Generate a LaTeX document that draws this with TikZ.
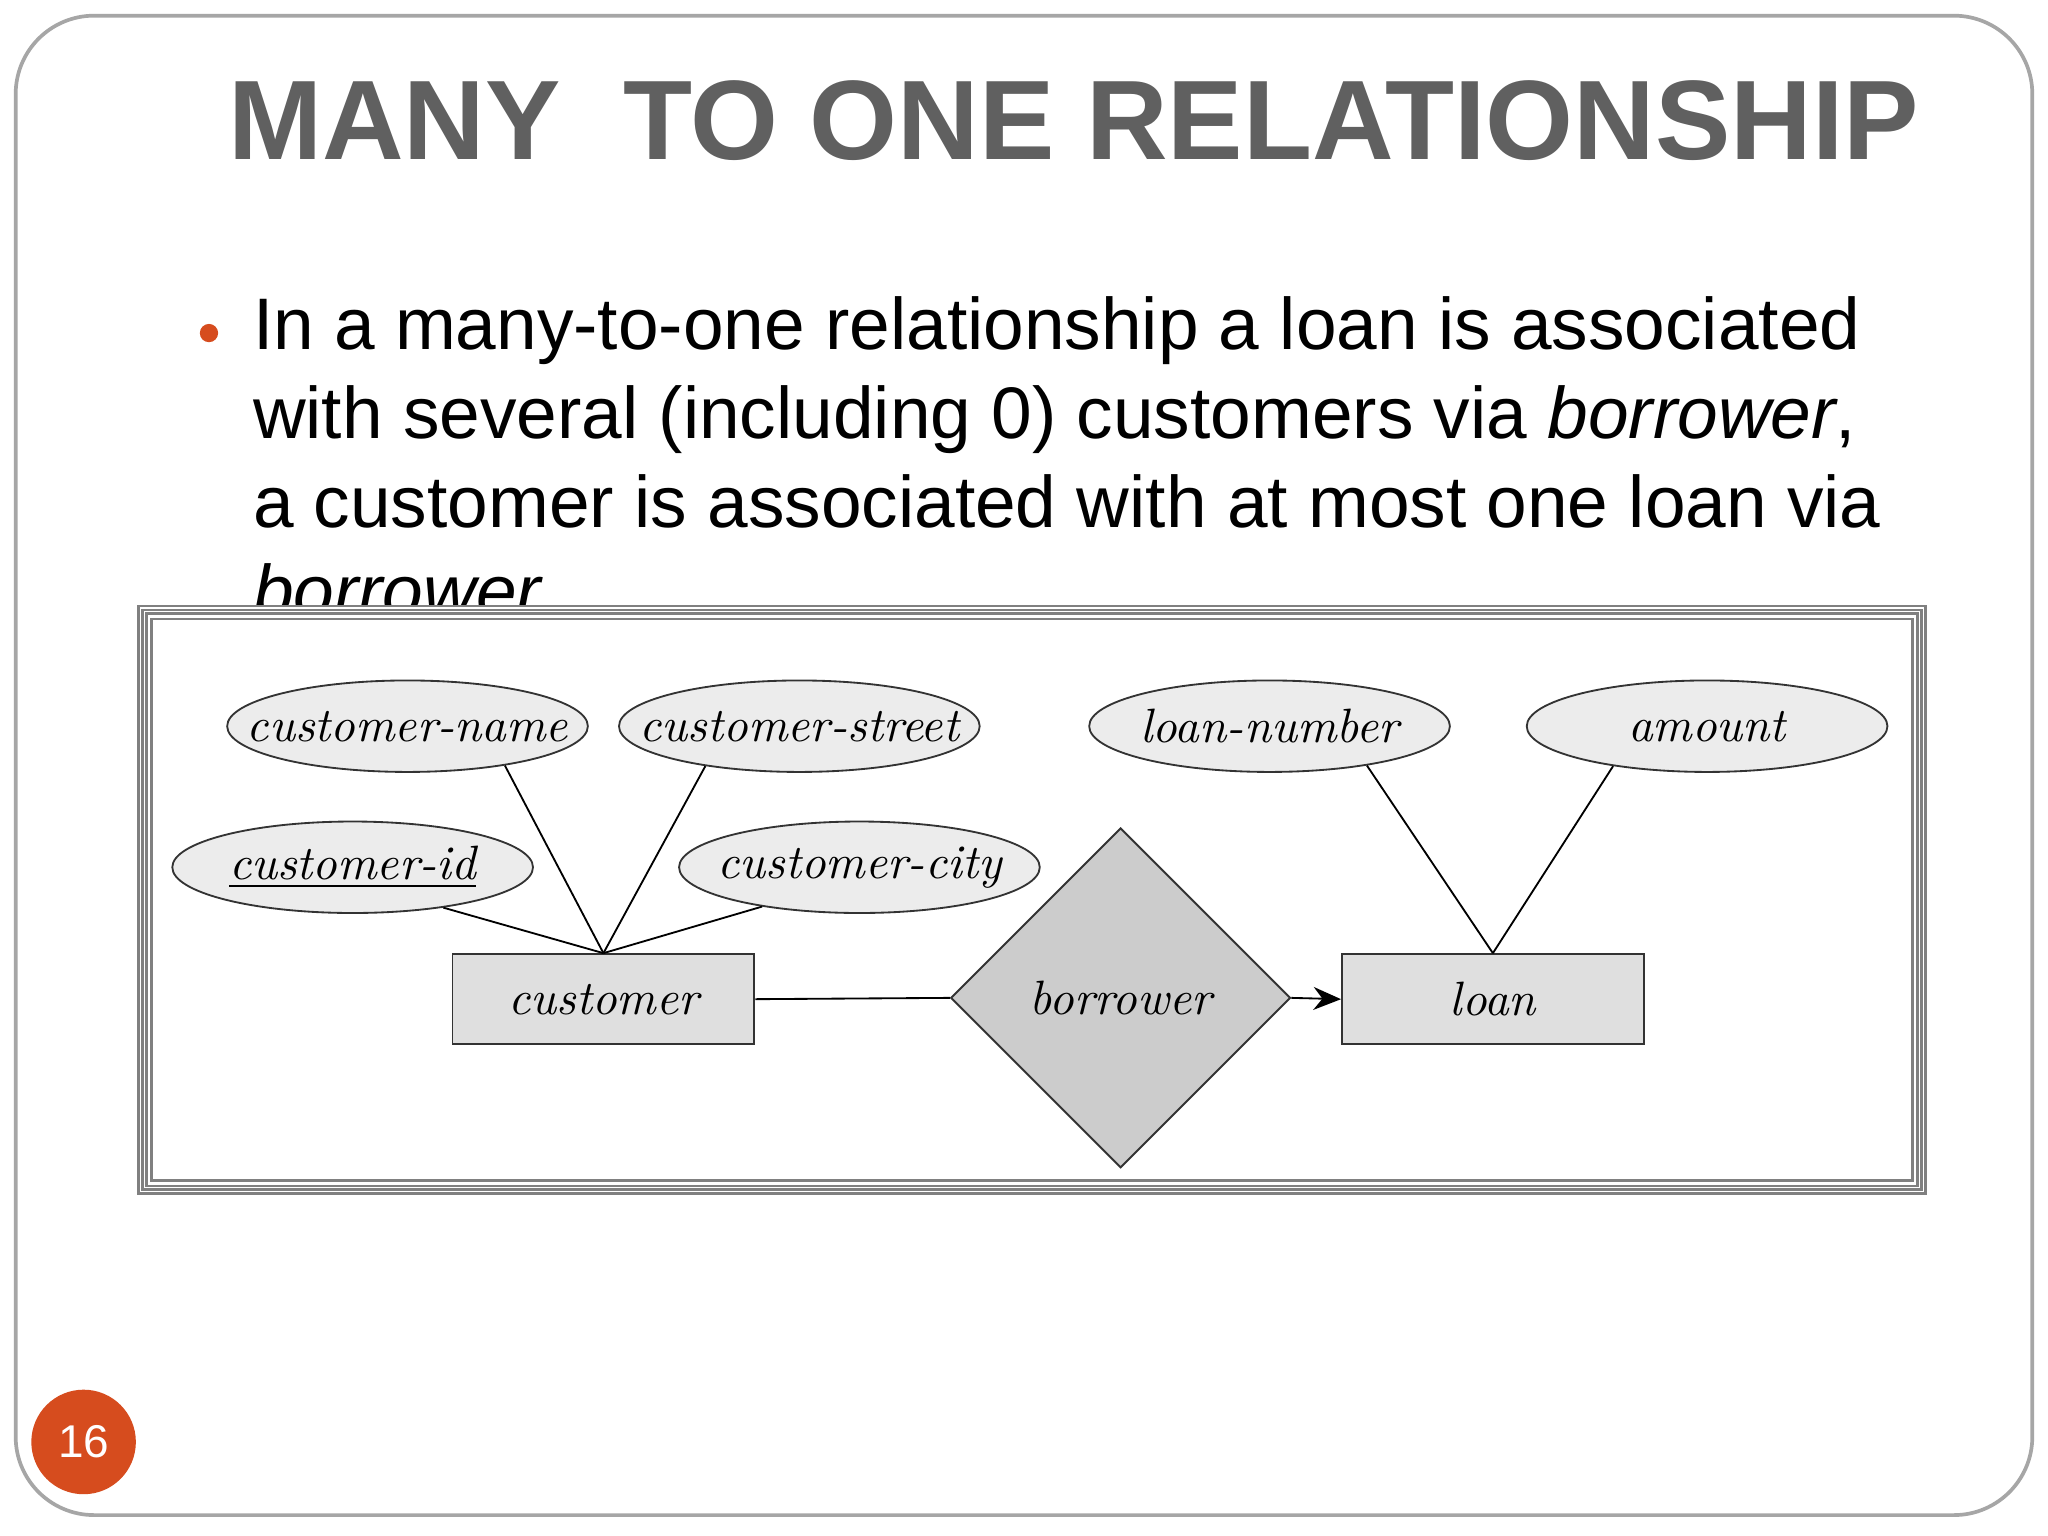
\documentclass[tikz,border=0pt]{standalone}
\usepackage{fontspec}
\newfontfamily\sansf{Liberation Sans}
\usetikzlibrary{shapes.geometric,arrows.meta}
\definecolor{titlegray}{RGB}{96,96,96}
\definecolor{orng}{RGB}{214,76,30}
\tikzset{
  attr/.style={ellipse,draw=black!80,fill=gray!15,minimum width=2.76cm,minimum height=0.7cm,inner sep=-0.6cm,font=\fontsize{10.5}{12}\selectfont\itshape},
  ent/.style={rectangle,draw=black!80,fill=gray!25,minimum width=2.31cm,minimum height=0.69cm,font=\fontsize{10.5}{12}\selectfont\itshape},
  rel/.style={diamond,draw=black!80,fill=gray!40,minimum width=2.6cm,minimum height=2.6cm,inner sep=0pt,font=\fontsize{10.5}{12}\selectfont\itshape},
  conn/.style={draw,line width=0.4pt}
}
\begin{document}
\begin{tikzpicture}[x=0.01cm,y=-0.01cm]
\useasboundingbox (0,0) rectangle (1568,1176);
\fill[white] (0,0) rectangle (1568,1176);
\draw[gray!70,line width=0.8pt,rounded corners=0.6cm] (12,12) rectangle (1556,1160);
\node[font=\sansf\bfseries\fontsize{24.6}{30}\selectfont,text=titlegray] (title) at (822,92) {MANY\ \ TO ONE RELATIONSHIP};
\fill[orng] (160,255) circle (7);
\node[anchor=north west,font=\sansf\fontsize{15.9}{19.4}\selectfont,align=left,inner sep=0pt] (txt) at (193,226) {In a many-to-one relationship a loan is associated\\ with several (including 0) customers via \textit{borrower},\\ a customer is associated with at most one loan via\\ \textit{borrower}};
% frame
\fill[white] (106,464) rectangle (1474,914);
\draw[gray,line width=0.6pt] (106,464) rectangle (1474,914);
\draw[gray,line width=0.6pt] (109,467) rectangle (1471,911);
\draw[gray,line width=0.6pt] (112,470) rectangle (1468,908);
\draw[gray,line width=0.6pt] (116,474) rectangle (1464,904);
% diagram
\node[attr] (cn) at (312,556) {customer-name};
\node[attr] (cs) at (612,556) {customer-street};
\node[attr] (ln) at (972,556) {loan-number};
\node[attr] (am) at (1307,556) {amount};
\node[attr] (ci) at (270,664) {\underline{customer-id}};
\node[attr] (cc) at (658,664) {customer-city};
\node[ent] (cust) at (462,765) {customer};
\node[ent] (loan) at (1143,765) {loan};
\node[rel] (bor) at (858,764) {borrower};
\draw[conn] (cn.-22) -- (cust.north);
\draw[conn] (cs.-157) -- (cust.north);
\draw[conn] (ci.-24) -- (cust.north);
\draw[conn] (cc.-158) -- (cust.north);
\draw[conn] (ln.-22) -- (loan.north);
\draw[conn] (am.-157) -- (loan.north);
\draw[conn] (cust.east) -- (bor.west);
\draw[conn,-{Stealth[length=6pt,width=5pt]}] (bor.east) -- (loan.west);
% page number
\node[circle,fill=orng,minimum size=0.8cm,text=white,font=\sansf\fontsize{10}{12}\selectfont] (pg) at (64,1104) {16};
\end{tikzpicture}
\end{document}
